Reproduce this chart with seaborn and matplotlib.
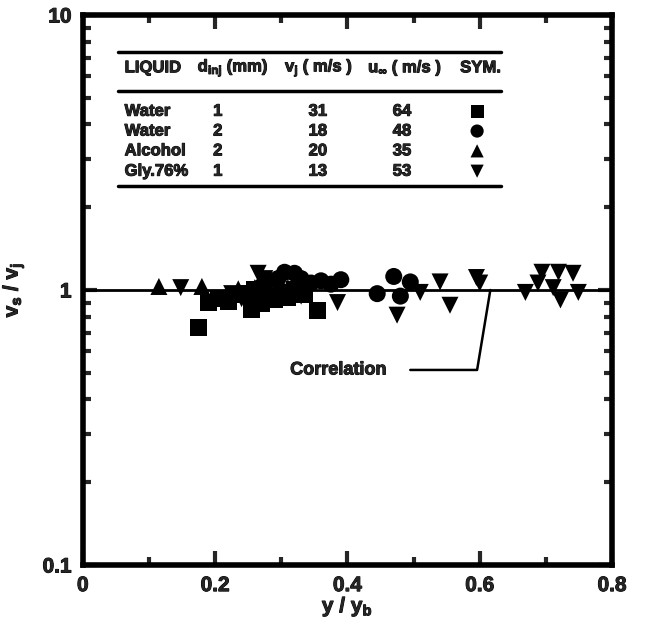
import matplotlib
matplotlib.use("Agg")
import matplotlib.pyplot as plt
import matplotlib.patheffects as pe
import numpy as np
import pandas as pd
import seaborn as sns
from matplotlib.ticker import FixedLocator, LogLocator, NullFormatter, FuncFormatter

sns.set_theme(style="ticks")
plt.rcParams["font.family"] = ["Liberation Sans", "DejaVu Sans"]
plt.rcParams["font.weight"] = "bold"
plt.rcParams["axes.labelweight"] = "bold"
plt.rcParams["mathtext.fontset"] = "custom"
plt.rcParams["mathtext.rm"] = "Liberation Sans:bold"
plt.rcParams["mathtext.it"] = "Liberation Sans:bold"
plt.rcParams["mathtext.bf"] = "Liberation Sans:bold"

OUT_FILE = "out.png"
# heavier text, like the bold Helvetica of the original
HEAVY = [pe.withStroke(linewidth=0.7, foreground="black")]
BOLD = dict(fontweight="bold", path_effects=HEAVY)

# Water, d_inj = 1 mm (squares)
sq_x = [0.175, 0.19, 0.205, 0.22, 0.235, 0.25, 0.255, 0.26, 0.265, 0.27, 0.28,
        0.29, 0.30, 0.31, 0.32, 0.335, 0.355]
sq_y = [0.73, 0.90, 0.93, 0.91, 0.96, 0.97, 0.85, 1.00, 0.92, 0.89, 0.95,
        0.92, 0.98, 0.94, 1.00, 0.96, 0.84]

# Water, d_inj = 2 mm (circles)
ci_x = [0.27, 0.28, 0.295, 0.305, 0.32, 0.33, 0.345, 0.36, 0.375, 0.39,
        0.445, 0.47, 0.48, 0.495]
ci_y = [1.03, 1.08, 1.10, 1.16, 1.15, 1.10, 1.06, 1.08, 1.05, 1.09,
        0.97, 1.12, 0.95, 1.07]

# Alcohol (triangles up)
tu_x = [0.115, 0.18, 0.235, 0.26, 0.295, 0.31]
tu_y = [1.03, 1.03, 1.01, 1.02, 1.00, 1.02]

# Glycerol 76% (triangles down)
td_x = [0.148, 0.225, 0.24, 0.265, 0.275, 0.28, 0.33, 0.385, 0.475, 0.51,
        0.54, 0.555, 0.595, 0.60, 0.669, 0.688, 0.694, 0.711, 0.719, 0.722,
        0.741, 0.749]
td_y = [1.02, 0.97, 0.93, 1.15, 1.10, 1.06, 0.95, 0.90, 0.81, 0.98,
        1.07, 0.88, 1.11, 1.06, 0.98, 1.06, 1.16, 1.02, 1.16, 0.92,
        1.15, 0.98]

# table contents
liquids = ["Water", "Water", "Alcohol", "Gly.76%"]
d_inj = ["1", "2", "2", "1"]
v_jet = ["31", "18", "20", "13"]
u_inf = ["64", "48", "35", "53"]
symbols = ["s", "o", "^", "v"]

# correlation: v_s / v_j = 1
corr_x = [0.0, 0.8]
corr_y = [1.0, 1.0]


def build_frame() -> pd.DataFrame:
    parts = []
    for name, xs, ys in [("sq", sq_x, sq_y), ("ci", ci_x, ci_y),
                         ("tu", tu_x, tu_y), ("td", td_x, td_y)]:
        parts.append(pd.DataFrame({"x": xs, "y": ys, "set": name}))
    return pd.concat(parts, ignore_index=True)


def plot(df: pd.DataFrame) -> None:
    fig = plt.figure(figsize=(6.47, 6.25), dpi=100)
    ax = fig.add_axes([0.128, 0.096, 0.818, 0.88])

    ax.plot(corr_x, corr_y, color="black", lw=2, zorder=2)

    sns.scatterplot(data=df, x="x", y="y", style="set",
                    markers={"sq": "s", "ci": "o", "tu": "^", "td": "v"},
                    s=150, color="black", edgecolor="none",
                    legend=False, ax=ax, zorder=3)

    ax.set_yscale("log")
    ax.set_xlim(0, 0.8)
    ax.set_ylim(0.1, 10)

    ax.xaxis.set_major_locator(FixedLocator([0, 0.2, 0.4, 0.6, 0.8]))
    ax.xaxis.set_minor_locator(FixedLocator([0.1, 0.3, 0.5, 0.7]))
    ax.xaxis.set_major_formatter(FuncFormatter(lambda v, p: f"{v:g}"))
    ax.yaxis.set_major_locator(FixedLocator([0.1, 1, 10]))
    ax.yaxis.set_minor_locator(LogLocator(base=10, subs=np.arange(2, 10)))
    ax.yaxis.set_major_formatter(FuncFormatter(lambda v, p: f"{v:g}"))
    ax.yaxis.set_minor_formatter(NullFormatter())

    ax.tick_params(which="both", direction="in", top=True, right=True,
                   width=3, labelsize=15, pad=8)
    ax.tick_params(which="major", length=10)
    ax.tick_params(which="minor", length=6)
    for sp in ax.spines.values():
        sp.set_linewidth(4)
        sp.set_color("black")

    ax.set_xlabel(r"y / y$_\mathregular{b}$", fontsize=15, labelpad=0, **BOLD)
    ax.set_ylabel(r"v$_\mathregular{s}$ / v$_\mathregular{j}$", fontsize=15,
                  labelpad=12, **BOLD)

    # table
    tr = ax.transAxes
    for yl in (0.933, 0.862, 0.689):
        ax.plot([0.066, 0.79], [yl, yl], color="black", lw=2.5, transform=tr,
                clip_on=False)
    fs = 12
    hy = 0.904
    ax.text(0.079, hy, "LIQUID", transform=tr, fontsize=fs, va="center", **BOLD)
    ax.text(0.217, hy, r"d$_\mathregular{inj}$ (mm)", transform=tr, fontsize=fs, va="center", **BOLD)
    ax.text(0.382, hy, r"v$_\mathregular{j}$ ( m/s )", transform=tr, fontsize=fs, va="center", **BOLD)
    ax.text(0.539, hy, r"u$_\infty$ ( m/s )", transform=tr, fontsize=fs, va="center", **BOLD)
    ax.text(0.713, hy, "SYM.", transform=tr, fontsize=fs, va="center", **BOLD)
    rows_y = [0.825, 0.789, 0.753, 0.716]
    for ry, liq, d, vj, ui, m in zip(rows_y, liquids, d_inj, v_jet, u_inf, symbols):
        ax.text(0.079, ry, liq, transform=tr, fontsize=fs, va="center", **BOLD)
        ax.text(0.255, ry, d, transform=tr, fontsize=fs, va="center", ha="center", **BOLD)
        ax.text(0.444, ry, vj, transform=tr, fontsize=fs, va="center", ha="center", **BOLD)
        ax.text(0.603, ry, ui, transform=tr, fontsize=fs, va="center", ha="center", **BOLD)
        ax.scatter([0.745], [ry], marker=m, s=90, color="black",
                   edgecolor="none", transform=tr, clip_on=False)

    # correlation pointer
    ax.plot([0.495, 0.596, 0.616], [0.512, 0.512, 1.0], color="black", lw=1.8)
    ax.text(0.386, 0.512, "Correlation", fontsize=13, ha="center", va="center", **BOLD)

    fig.canvas.draw()
    plt.setp(ax.get_xticklabels() + ax.get_yticklabels(), fontweight="bold",
             path_effects=HEAVY)

    fig.savefig(OUT_FILE, dpi=100)
    plt.close(fig)


def main() -> None:
    df = build_frame()
    plot(df)


if __name__ == "__main__":
    main()
